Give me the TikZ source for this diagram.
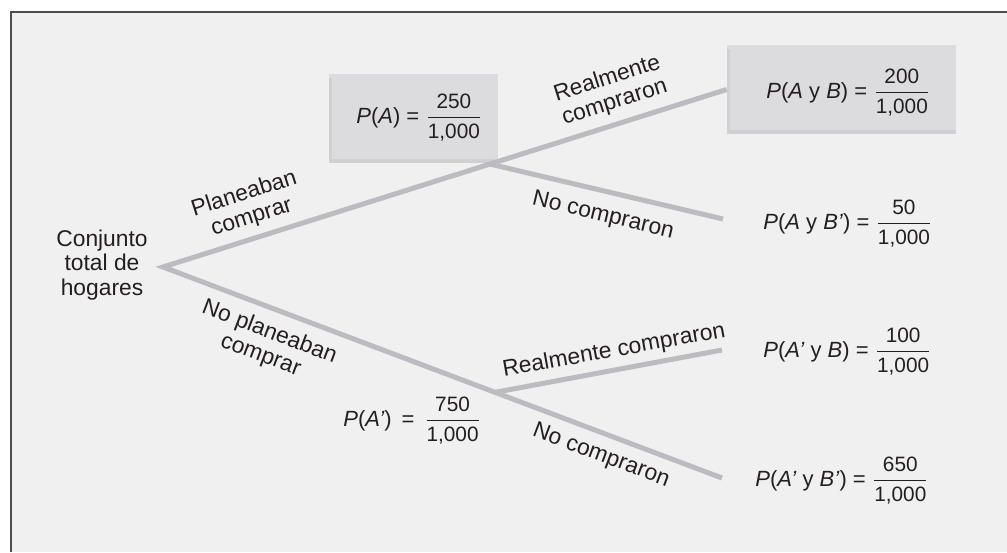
\documentclass[tikz,border=0pt]{standalone}
\usepackage{amsmath}
\usepackage{fontspec}
\setmainfont{Liberation Sans}
\usetikzlibrary{calc}
\definecolor{frameback}{HTML}{F0F0F0}
\definecolor{frameline}{HTML}{4D4D4D}
\definecolor{branch}{HTML}{BCBCC0}
\definecolor{boxfill}{HTML}{DCDCDE}
\definecolor{boxedge}{HTML}{D0D0D2}
\definecolor{ink}{HTML}{231F20}
% numerals of the fractions
\newcommand\numsz{\fontsize{10.4}{12}\selectfont}
\newcommand\fr[2]{$\dfrac{\mbox{\numsz #1}}{\mbox{\numsz #2}}$}
\newcommand\ital[1]{\textit{#1}}

\begin{document}
\begin{tikzpicture}[x=0.5pt,y=-0.5pt,
  branchline/.style={draw=branch,line width=2.5pt,line join=miter},
  lbl/.style={text=ink,font=\fontsize{11.4}{12.3}\selectfont,inner sep=0pt,align=center},
  prob/.style={text=ink,font=\fontsize{11}{12}\selectfont,inner sep=0pt,anchor=base west},
  probbox/.style={fill=boxfill,inner sep=0pt,minimum height=44.5pt}
]
\useasboundingbox (0,0) rectangle (1007,552);
\fill[white] (0,0) rectangle (1007,552);

% panel
\fill[frameback] (11,12) rectangle (1007,552);
\draw[frameline,line width=1pt] (11,552) -- (11,12) -- (1007,12);

% shaded boxes
\node[probbox,minimum width=84.5pt] (boxA) at (413.5,118.5) {};
\node[probbox,minimum width=114.5pt] (boxAB) at (841.5,89.5) {};
\foreach \b in {boxA,boxAB}{
  \fill[boxedge] (\b.south west) rectangle ($(\b.south east)+(0,-4)$);
  \fill[boxedge] (\b.south west) rectangle ($(\b.north west)+(3,4)$);
}

% tree
\coordinate (root) at (163,267);
\coordinate (endApBp) at (722,478);
\coordinate (endABp) at (723,219);
\coordinate (endApB) at (722,350);
\coordinate (jA) at ($(root)!0.58!(boxAB.west)$);
\coordinate (jAp) at ($(root)!0.594!(endApBp)$);
\draw[branchline] (boxAB.west) -- (root) -- (endApBp);
\draw[branchline] (jA) -- (endABp);
\draw[branchline] (jAp) -- (endApB);

% branch labels
\node[lbl] (lroot) at (102,265) {Conjunto\\total de\\hogares};
\node[lbl,rotate=17.6] (lPlan) at (248,206) {Planeaban\\comprar};
\node[lbl,rotate=17.6] (lReal1) at (611,91) {Realmente\\compraron};
\node[lbl,rotate=-13.5] (lNo1) at (603,216) {No compraron};
\node[lbl,rotate=-20.7] (lNoPlan) at (265,344) {No planeaban\\comprar};
\node[lbl,rotate=10.2] (lReal2) at (614,351) {Realmente compraron};
\node[lbl,rotate=-20.7] (lNo2) at (601,456) {No compraron};

% probabilities
\node[prob] (pA) at (356,123) {\ital{P}(\ital{A}) = \fr{250}{1,000}};
\node[prob] (pAB) at (766,98) {\ital{P}(\ital{A} y \ital{B}) = \fr{200}{1,000}};
\node[prob] (pABp) at (763,229) {\ital{P}(\ital{A} y \ital{B’}) = \fr{50}{1,000}};
\node[prob] (pApB) at (763,357) {\ital{P}(\ital{A’} y \ital{B}) = \fr{100}{1,000}};
\node[prob] (pApBp) at (755,486) {\ital{P}(\ital{A’} y \ital{B’}) = \fr{650}{1,000}};
\node[prob] (pAp) at (343,426) {\ital{P}(\ital{A’})\, =\, \fr{750}{1,000}};
\end{tikzpicture}
\end{document}
